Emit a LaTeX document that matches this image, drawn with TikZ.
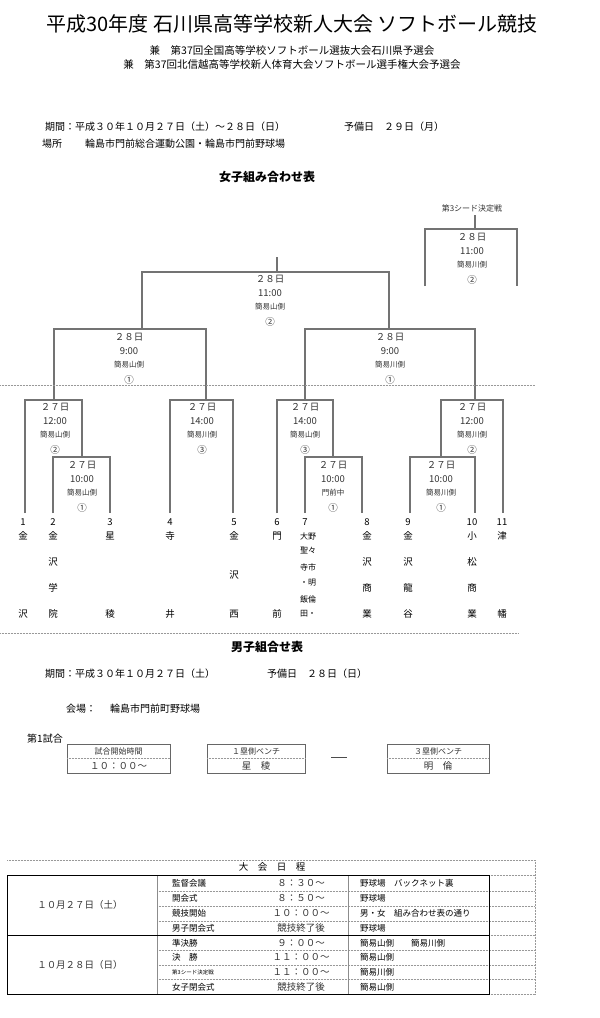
\documentclass[tikz,border=0pt]{standalone}
\usepackage{fontspec}
\setmainfont{Noto Sans CJK JP}
\tikzset{
  lbl/.style={font=\fontsize{9.5}{10}\selectfont,inner sep=0pt,text=black!80},
  small lbl/.style={font=\fontsize{7.5}{8}\selectfont,inner sep=0pt,text=black!80},
  team/.style={font=\fontsize{9.5}{10}\selectfont,inner sep=0pt},
  txt/.style={font=\fontsize{10}{10}\selectfont,inner sep=0pt,anchor=west},
  bracket/.style={draw=black!55,line width=1.1pt},
  dotline/.style={draw=black!40,densely dotted,line width=0.5pt},
  cell/.style={draw=black!45,line width=0.5pt}
}
% labels of one game: x, y of top line, date, time, place, number
\newcommand{\gamelbl}[7]{%
  \node[lbl] (#1d) at (#2,#3) {#4};
  \node[lbl] (#1t) at (#2,#3+14) {#5};
  \node[small lbl] (#1p) at (#2,#3+28) {#6};
  \node[lbl] (#1n) at (#2,#3+43) {#7};}
\begin{document}
\begin{tikzpicture}[x=1pt,y=-1pt]
  \useasboundingbox (0,0) rectangle (600,1018);
  \fill[white] (0,0) rectangle (600,1018);

  % header
  \node[inner sep=0pt,font=\fontsize{20}{20}\selectfont] (title) at (292,24) {平成30年度\ 石川県高等学校新人大会\ ソフトボール競技};
  \node[lbl,text=black,font=\fontsize{10.5}{11}\selectfont] (sub1) at (292,51) {兼\quad 第37回全国高等学校ソフトボール選抜大会石川県予選会};
  \node[lbl,text=black,font=\fontsize{10.5}{11}\selectfont] (sub2) at (292,65) {兼\quad 第37回北信越高等学校新人体育大会ソフトボール選手権大会予選会};
  \node[txt] (period) at (45,127) {期間：平成３０年１０月２７日（土）～２８日（日）};
  \node[txt] (spare) at (344,127) {予備日\quad ２９日（月）};
  \node[txt] (place) at (42,144) {場所};
  \node[txt] (placev) at (85,144) {輪島市門前総合運動公園・輪島市門前野球場};
  \node[inner sep=0pt,font=\bfseries\fontsize{12}{12}\selectfont] (girls) at (267,177) {女子組み合わせ表};

  % women bracket, upper rounds
  \node[small lbl,font=\fontsize{8}{8}\selectfont] (seed) at (472,208) {第3シード決定戦};
  \draw[bracket] (475,215) -- (475,229);
  \draw[bracket] (425,286) -- (425,229) -- (517,229) -- (517,286);
  \gamelbl{s3}{472}{237}{２８日}{11:00}{簡易川側}{②}
  \draw[bracket] (277,257) -- (277,272);
  \draw[bracket] (142,329) -- (142,272) -- (389,272) -- (389,329);
  \gamelbl{fin}{270}{279}{２８日}{11:00}{簡易山側}{②}
  \draw[bracket] (54,400) -- (54,329) -- (206,329) -- (206,400);
  \gamelbl{sfa}{129}{337}{２８日}{9:00}{簡易山側}{①}
  \draw[bracket] (305,400) -- (305,329) -- (475,329) -- (475,400);
  \gamelbl{sfb}{390}{337}{２８日}{9:00}{簡易川側}{①}
  \draw[dotline] (0,385) -- (535,385);

  % first rounds
  \draw[bracket] (25,513) -- (25,400) -- (82,400) -- (82,457);
  \gamelbl{ga}{55}{407}{２７日}{12:00}{簡易山側}{②}
  \draw[bracket] (53,513) -- (53,457) -- (110,457) -- (110,513);
  \gamelbl{gb}{82}{465}{２７日}{10:00}{簡易山側}{①}
  \draw[bracket] (170,513) -- (170,400) -- (233,400) -- (233,513);
  \gamelbl{gc}{202}{407}{２７日}{14:00}{簡易川側}{③}
  \draw[bracket] (277,513) -- (277,400) -- (333,400) -- (333,457);
  \gamelbl{gd}{305}{407}{２７日}{14:00}{簡易山側}{③}
  \draw[bracket] (305,513) -- (305,457) -- (362,457) -- (362,513);
  \gamelbl{ge}{333}{465}{２７日}{10:00}{門前中}{①}
  \draw[bracket] (441,457) -- (441,400) -- (503,400) -- (503,513);
  \gamelbl{gf}{472}{407}{２７日}{12:00}{簡易川側}{②}
  \draw[bracket] (410,513) -- (410,457) -- (475,457) -- (475,513);
  \gamelbl{gg}{441}{465}{２７日}{10:00}{簡易川側}{①}

  % teams
  \foreach \n/\x in {1/23,2/53,3/110,4/170,5/234,6/277,7/305,8/367,9/408,10/472,11/502}
    \node[team] (n\n) at (\x,522) {\n};
  \foreach \n/\x/\a/\b in {1/23/金/沢,3/110/星/稜,4/170/寺/井,6/277/門/前,11/502/津/幡}{
    \node[team] (t\n a) at (\x,536) {\a};
    \node[team] (t\n b) at (\x,614) {\b};}
  \foreach \n/\x/\a/\b/\c/\d in {2/53/金/沢/学/院,8/367/金/沢/商/業,9/408/金/沢/龍/谷,10/472/小/松/商/業}{
    \node[team] (t\n a) at (\x,536) {\a};
    \node[team] (t\n b) at (\x,562) {\b};
    \node[team] (t\n c) at (\x,588) {\c};
    \node[team] (t\n d) at (\x,614) {\d};}
  \node[team] (t5a) at (234,536) {金};
  \node[team] (t5b) at (234,575) {沢};
  \node[team] (t5c) at (234,614) {西};
  \foreach \r/\y/\s in {1/536/大野,2/551/聖々,3/567/寺市,4/583/・明,5/599/飯倫,6/614/田・}
    \node[team,font=\fontsize{8}{8}\selectfont] (t7\r) at (308,\y) {\s};

  % men
  \draw[dotline] (0,633) -- (518,633);
  \node[inner sep=0pt,font=\bfseries\fontsize{12}{12}\selectfont] (boys) at (267,647) {男子組合せ表};
  \node[txt] (mperiod) at (45,674) {期間：平成３０年１０月２７日（土）};
  \node[txt] (mspare) at (267,674) {予備日\quad ２８日（日）};
  \node[txt] (mplace) at (66,709) {会場：};
  \node[txt] (mplacev) at (110,709) {輪島市門前町野球場};
  \node[txt] (game1) at (27,739) {第1試合};
  \foreach \k/\xa/\xb/\top/\bot in {a/67/170/試合開始時間/１０：００～,b/207/305/１塁側ベンチ/星\quad 稜,c/387/489/３塁側ベンチ/明\quad 倫}{
    \draw[draw=black!60,line width=0.6pt] (\xa,744) rectangle (\xb,773);
    \draw[dotline] (\xa,758) -- (\xb,758);
    \node[small lbl,font=\fontsize{8}{8}\selectfont] (m\k top) at ({(\xa+\xb)/2},751) {\top};
    \node[lbl] (m\k bot) at ({(\xa+\xb)/2},766) {\bot};}
  \coordinate (dashl) at (331,757);
  \coordinate (dashr) at (347,757);
  \draw[black!70,line width=0.7pt] (dashl) -- (dashr);

  % schedule table
  \draw[dotline] (7,860) -- (535,860);
  \node[lbl,text=black] (sched) at (272,867) {大\quad 会\quad 日\quad 程};
  \foreach \y in {891,906,921,950,965,979}
    \draw[dotline] (157,\y) -- (535,\y);
  \draw[dotline] (535,860) -- (535,994);
  \draw[dotline] (489,875) -- (535,875);
  \draw[dotline] (489,935) -- (535,935);
  \draw[dotline] (489,994) -- (535,994);
  \draw[cell] (157,875) -- (157,994);
  \draw[cell] (348,875) -- (348,994);
  \draw[line width=1pt] (7,875) rectangle (489,994);
  \draw[line width=1pt] (7,935) -- (489,935);
  \node[lbl] (day1) at (80,905) {１０月２７日（土）};
  \node[lbl] (day2) at (80,965) {１０月２８日（日）};
  \foreach \r/\y/\a/\b/\c in {1/883/監督会議/８：３０～/野球場\quad バックネット裏,
      2/898/開会式/８：５０～/野球場,
      3/913/競技開始/１０：００～/男・女\quad 組み合わせ表の通り,
      4/928/男子閉会式/競技終了後/野球場,
      5/943/準決勝/９：００～/簡易山側\qquad 簡易川側,
      6/957/決\quad 勝/１１：００～/簡易山側,
      8/987/女子閉会式/競技終了後/簡易山側}{
    \node[txt,font=\fontsize{8.5}{9}\selectfont] (r\r a) at (172,\y) {\a};
    \node[lbl] (r\r b) at (301,\y) {\b};
    \node[txt,font=\fontsize{8.5}{9}\selectfont] (r\r c) at (360,\y) {\c};}
  \node[txt,font=\fontsize{5.5}{6}\selectfont] (r7a) at (172,972) {第3シード決定戦};
  \node[lbl] (r7b) at (301,972) {１１：００～};
  \node[txt,font=\fontsize{8.5}{9}\selectfont] (r7c) at (360,972) {簡易川側};
\end{tikzpicture}
\end{document}
